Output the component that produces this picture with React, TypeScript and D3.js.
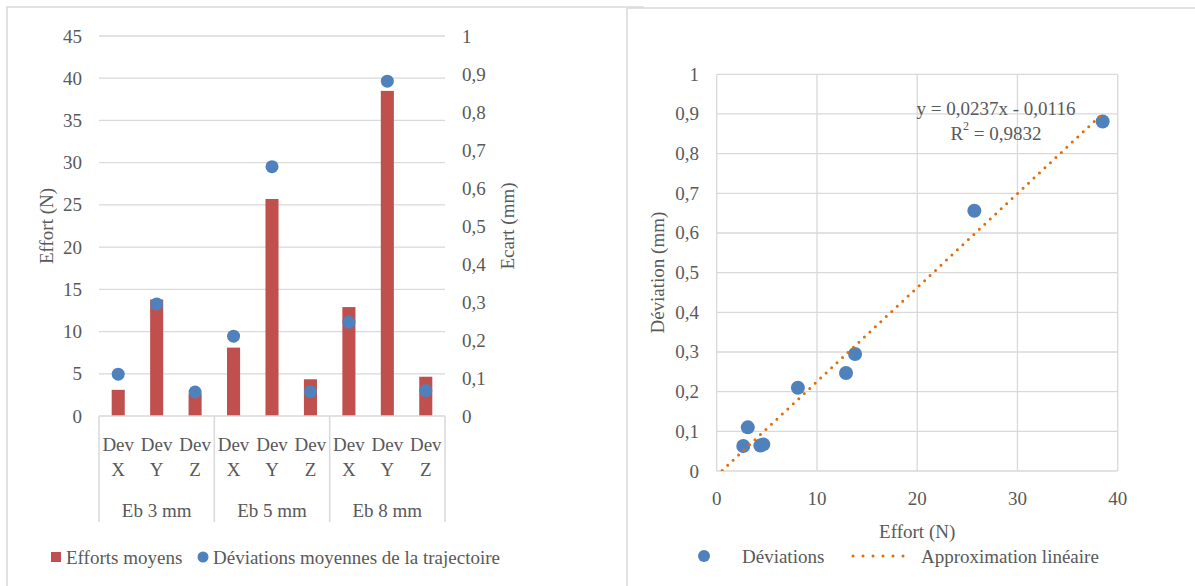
import * as d3 from "d3";

// chart data
const groups = ["Eb 3 mm", "Eb 5 mm", "Eb 8 mm"];
const devAxes = ["X", "Y", "Z"];
const efforts = [3.1, 13.8, 2.65, 8.1, 25.7, 4.35, 12.9, 38.5, 4.65];
const deviations = [0.11, 0.295, 0.063, 0.21, 0.656, 0.064, 0.247, 0.881, 0.067];

const leftTicks = [0, 5, 10, 15, 20, 25, 30, 35, 40, 45];
const rightTicks = [0, 0.1, 0.2, 0.3, 0.4, 0.5, 0.6, 0.7, 0.8, 0.9, 1];
const scatterXTicks = [0, 10, 20, 30, 40];
const scatterYTicks = [0, 0.1, 0.2, 0.3, 0.4, 0.5, 0.6, 0.7, 0.8, 0.9, 1];

const trendSlope = 0.0237;
const trendIntercept = -0.0116;

const FONT = "'Liberation Serif', 'Times New Roman', serif";
const TEXT = "#595959";
const GRID = "#d9d9d9";
const RED = "#C0504D";
const BLUE = "#4F81BD";
const ORANGE = "#E36C09";

const fmt = (v: number) => String(+v.toFixed(2)).replace(".", ",");

function BarChart() {
    const left = 99, right = 445, top = 36, bottom = 416;

    const cats = groups.flatMap((g) => devAxes.map((a) => `${g}|${a}`));
    const x = d3.scaleBand().domain(cats).range([left, right]).padding(0);
    const yL = d3.scaleLinear().domain([0, 45]).range([bottom, top]);
    const yR = d3.scaleLinear().domain([0, 1]).range([bottom, top]);
    const barW = x.bandwidth() * 0.34;
    const groupW = x.bandwidth() * devAxes.length;

    return (
        <g>
            {leftTicks.map((t) => (
                <g key={t}>
                    {t > 0 && (
                        <line x1={left} x2={right} y1={yL(t)} y2={yL(t)} stroke={GRID} strokeWidth={1.3} />
                    )}
                    <text x={82} y={yL(t)} textAnchor="end" dominantBaseline="central">{t}</text>
                </g>
            ))}
            {rightTicks.map((t) => (
                <text key={t} x={462} y={yR(t)} dominantBaseline="central">{fmt(t)}</text>
            ))}

            {cats.map((c, i) => (
                <rect
                    key={c}
                    x={x(c)! + (x.bandwidth() - barW) / 2}
                    y={yL(efforts[i])}
                    width={barW}
                    height={bottom - yL(efforts[i])}
                    fill={RED}
                />
            ))}
            {cats.map((c, i) => (
                <circle key={c} cx={x(c)! + x.bandwidth() / 2} cy={yR(deviations[i])} r={6.5} fill={BLUE} />
            ))}

            <line x1={left} x2={right} y1={bottom} y2={bottom} stroke={GRID} strokeWidth={1.5} />
            {d3.range(groups.length + 1).map((i) => (
                <line
                    key={i}
                    x1={left + i * groupW}
                    x2={left + i * groupW}
                    y1={bottom}
                    y2={522}
                    stroke={GRID}
                    strokeWidth={1.5}
                />
            ))}
            {cats.map((c) => {
                const cx = x(c)! + x.bandwidth() / 2;
                return (
                    <g key={c}>
                        <text x={cx} y={444} textAnchor="middle" dominantBaseline="central">Dev</text>
                        <text x={cx} y={469} textAnchor="middle" dominantBaseline="central">{c.split("|")[1]}</text>
                    </g>
                );
            })}
            {groups.map((g, i) => (
                <text key={g} x={left + (i + 0.5) * groupW} y={510} textAnchor="middle" dominantBaseline="central">
                    {g}
                </text>
            ))}

            <text transform={`translate(46,${(top + bottom) / 2}) rotate(-90)`} textAnchor="middle" dominantBaseline="central">
                Effort (N)
            </text>
            <text transform={`translate(507,${(top + bottom) / 2}) rotate(-90)`} textAnchor="middle" dominantBaseline="central">
                Ecart (mm)
            </text>

            {/* legend */}
            <rect x={51} y={552} width={10} height={10} fill={RED} />
            <text x={66} y={557} dominantBaseline="central">Efforts moyens</text>
            <circle cx={203} cy={557} r={5.5} fill={BLUE} />
            <text x={213} y={557} dominantBaseline="central">Déviations moyennes de la trajectoire</text>
        </g>
    );
}

function ScatterChart() {
    const left = 716.7, right = 1117.7, top = 74.3, bottom = 471;
    const x = d3.scaleLinear().domain([0, 40]).range([left, right]);
    const y = d3.scaleLinear().domain([0, 1]).range([bottom, top]);

    const xEnd = d3.max(efforts)!;
    const trend = d3
        .line<number>()
        .x((v) => x(v))
        .y((v) => y(trendSlope * v + trendIntercept))([0, xEnd]);

    return (
        <g>
            <defs>
                <clipPath id="plotClip">
                    <rect x={left} y={top - 10} width={right - left + 10} height={bottom - top + 10} />
                </clipPath>
            </defs>
            {scatterYTicks.map((t) => (
                <g key={t}>
                    <line x1={left} x2={right} y1={y(t)} y2={y(t)} stroke={GRID} strokeWidth={1.3} />
                    <text x={699} y={y(t)} textAnchor="end" dominantBaseline="central">{fmt(t)}</text>
                </g>
            ))}
            {scatterXTicks.map((t) => (
                <g key={t}>
                    <line x1={x(t)} x2={x(t)} y1={top} y2={bottom} stroke={GRID} strokeWidth={1.3} />
                    <text x={x(t)} y={498} textAnchor="middle" dominantBaseline="central">{t}</text>
                </g>
            ))}

            {efforts.map((e, i) => (
                <circle key={i} cx={x(e)} cy={y(deviations[i])} r={7} fill={BLUE} />
            ))}
            <path
                d={trend!}
                clipPath="url(#plotClip)"
                fill="none"
                stroke={ORANGE}
                strokeWidth={3}
                strokeLinecap="round"
                strokeDasharray="0 7.5"
            />

            <text x={996} y={108} textAnchor="middle" dominantBaseline="central">
                y = 0,0237x - 0,0116
            </text>
            <text x={996} y={133} textAnchor="middle" dominantBaseline="central">
                R<tspan dy={-7} fontSize={12}>2</tspan><tspan dy={7}> = 0,9832</tspan>
            </text>

            <text x={(left + right) / 2} y={531} textAnchor="middle" dominantBaseline="central">Effort (N)</text>
            <text transform={`translate(657,${(top + bottom) / 2}) rotate(-90)`} textAnchor="middle" dominantBaseline="central">
                Déviation (mm)
            </text>

            {/* legend */}
            <circle cx={704} cy={556} r={6} fill={BLUE} />
            <text x={742} y={556} dominantBaseline="central">Déviations</text>
            <line
                x1={853} x2={912} y1={556} y2={556}
                stroke={ORANGE} strokeWidth={3} strokeLinecap="round" strokeDasharray="0 10"
            />
            <text x={921} y={556} dominantBaseline="central">Approximation linéaire</text>
        </g>
    );
}

export default function App() {
    return (
        <svg
            width={1195}
            height={586}
            style={{position: "absolute", left: 0, top: 0, background: "#fff"}}
            fontFamily={FONT}
            fontSize={19}
            fill={TEXT}
        >
            <rect x={7} y={7} width={636} height={600} fill="#fff" stroke={GRID} strokeWidth={1.5} />
            <BarChart />
            <rect x={627} y={8} width={600} height={600} fill="#fff" stroke={GRID} strokeWidth={1.5} />
            <ScatterChart />
        </svg>
    );
}
